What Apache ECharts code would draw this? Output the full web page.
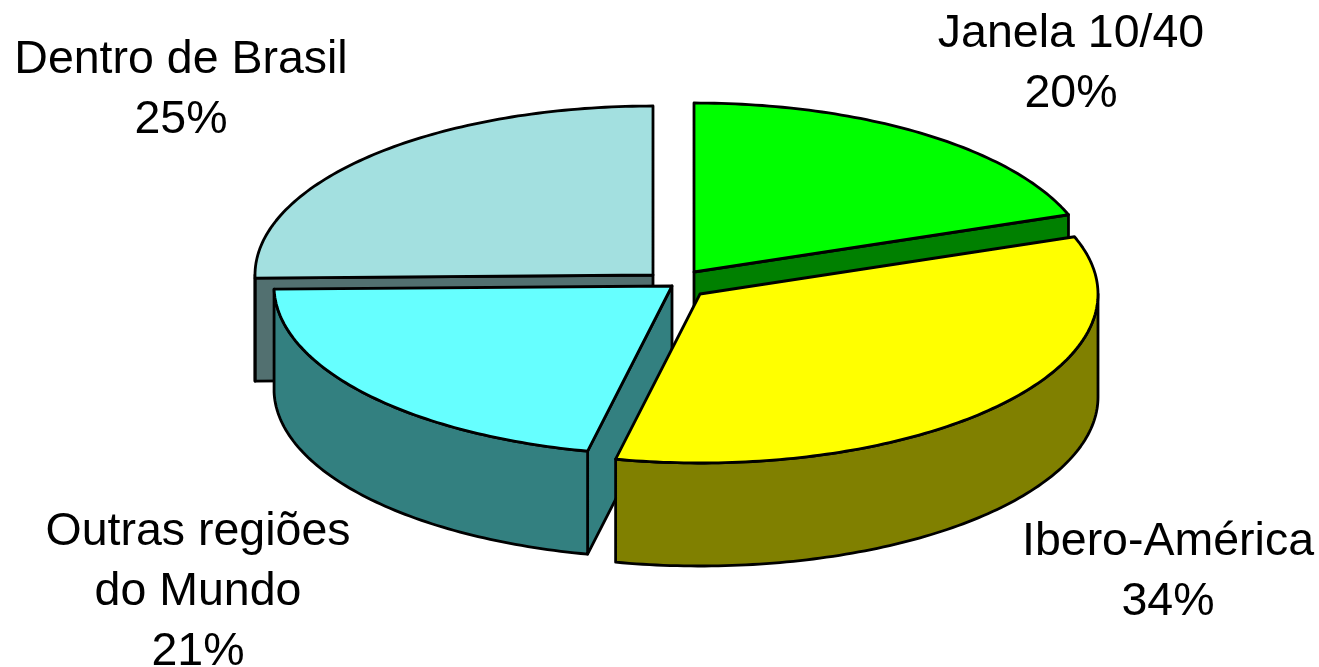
<!DOCTYPE html>
<html>
<head>
<meta charset="utf-8">
<style>html,body{margin:0;padding:0;background:#fff}#c{width:1319px;height:667px}</style>
<script src="https://cdn.jsdelivr.net/npm/echarts@6/dist/echarts.min.js"></script>
</head>
<body>
<div id="c"></div>
<script>
// Data (clockwise from 12 o'clock)
const categories = ['Janela 10/40', 'Ibero-América', 'Outras regiões\ndo Mundo', 'Dentro de Brasil'];
const shares = [19.5, 33.9, 21.3, 25.3];

// Styling and layout, separate from the data
const topColors = ['#00FF00', '#FFFF00', '#66FFFF', '#A3E0E0'];
const sideColors = ['#008000', '#808000', '#338080', '#527070'];
const apexes = [[694, 272], [700, 294], [672, 286], [653, 275]];
const labelAnchors = [[1071, 64], [1168, 572], [198, 592], [181, 90]];
const drawOrder = [3, 0, 2, 1];
const RX = 398, RY = 169, DEPTH = 103;
const FONT = '46.5px "Liberation Sans", Arial, sans-serif';
const LINE = { stroke: '#000', lineWidth: 2.8, lineJoin: 'round' };

const total = shares.reduce((a, b) => a + b, 0);
function rimPoint(apex, deg, drop) {
  const t = deg * Math.PI / 180;
  return [apex[0] + RX * Math.sin(t), apex[1] - RY * Math.cos(t) + drop];
}
function arc(apex, from, to, drop) {
  const pts = [];
  const n = Math.max(1, Math.ceil(Math.abs(to - from)));
  for (let i = 0; i <= n; i++) pts.push(rimPoint(apex, from + (to - from) * i / n, drop));
  return pts;
}
function poly(points, fill) {
  return { type: 'polygon', shape: { points }, style: Object.assign({ fill }, LINE), silent: true };
}
function renderSlice(params, api) {
  const i = api.value(0);
  const start = shares.slice(0, i).reduce((a, b) => a + b, 0) / total * 360;
  const end = start + shares[i] / total * 360;
  const apex = apexes[i];
  const side = sideColors[i];
  const children = [];
  // radial cut faces that turn towards the viewer
  const faceAngles = [];
  if (start > 180 && start < 360) faceAngles.push(start);
  if (end > 0 && end < 180) faceAngles.push(end);
  faceAngles.forEach(deg => {
    const p = rimPoint(apex, deg, 0), q = rimPoint(apex, deg, DEPTH);
    children.push(poly([apex, p, q, [apex[0], apex[1] + DEPTH]], side));
  });
  // outer rim, front half only
  const a = Math.max(start, 90), b = Math.min(end, 270);
  if (b > a) {
    children.push(poly(arc(apex, a, b, 0).concat(arc(apex, b, a, DEPTH)), side));
  }
  // top face
  children.push(poly([apex].concat(arc(apex, start, end, 0)), topColors[i]));
  // label
  children.push({
    type: 'text', silent: true, z2: 100,
    style: {
      text: categories[i] + '\n' + Math.round(shares[i]) + '%',
      x: labelAnchors[i][0], y: labelAnchors[i][1],
      font: FONT, fill: '#000', align: 'center', verticalAlign: 'middle',
      textAlign: 'center', textVerticalAlign: 'middle', lineHeight: 60
    }
  });
  return { type: 'group', children };
}

const chart = echarts.init(document.getElementById('c'), null, { renderer: 'canvas' });
chart.setOption({
  animation: false,
  backgroundColor: '#fff',
  series: [{
    type: 'custom',
    coordinateSystem: 'none',
    renderItem: renderSlice,
    data: drawOrder.map(i => [i]),
    encode: { value: 0 },
    silent: true
  }]
});
</script>
</body>
</html>
